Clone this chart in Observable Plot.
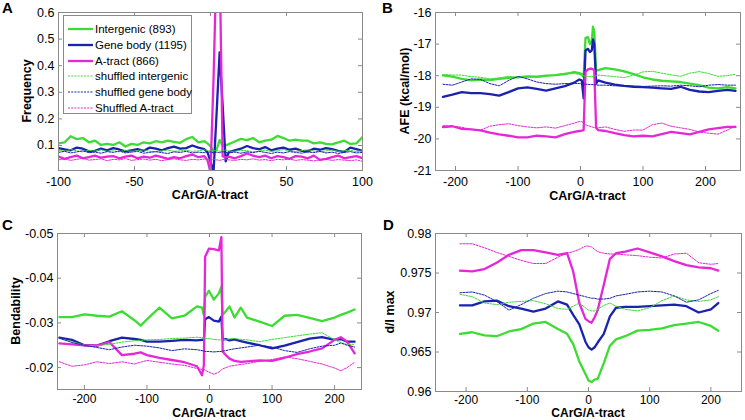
<!DOCTYPE html>
<html><head><meta charset="utf-8">
<script src="https://cdn.jsdelivr.net/npm/d3@7"></script>
<script src="https://cdn.jsdelivr.net/npm/@observablehq/plot@0.6"></script>
<style>
body{margin:0;background:#fff;font-family:"Liberation Sans",Arial,sans-serif;}
#wrap{position:relative;width:745px;height:420px;overflow:hidden;background:#fff;}
.panel{position:absolute;}
.letter{position:absolute;font-weight:bold;font-size:15px;line-height:15px;color:#000;}
.atitle{position:absolute;font-weight:bold;line-height:10px;white-space:nowrap;color:#000;}
#legend{position:absolute;left:63px;top:15px;width:129px;height:99px;border:1px solid #8a8a8a;background:#fff;box-sizing:border-box;font-size:11.5px;color:#000;}
#legend .row{position:absolute;left:0;height:14px;line-height:14px;white-space:nowrap;}
#legend svg{position:absolute;left:4px;top:0;}
#legend span{position:absolute;left:31px;top:0;}
</style></head><body><div id="wrap"></div>
<script>
// ---------- series meta ----------
const SERIES_NAMES = ["Intergenic (893)","Gene body (1195)","A-tract (866)","shuffled intergenic","shuffled gene body","Shuffled A-tract"];
const SERIES_COLORS = ["#3cdc32","#1a22b0","#e626d8","#3cdc32","#1a22b0","#e626d8"];
const SERIES_WIDTHS = [2.3,2.3,2.3,1,1,1];
const SERIES_DASH = [null,null,null,"2,1.2","2,1.2","2,1.2"];
const FRAME = "#8a8a8a";

// ---------- Panel A: Frequency ----------
const xA = [-100,-96,-92,-88,-84,-80,-76,-72,-68,-64,-60,-56,-52,-48,-44,-40,-36,-32,-28,-24,-20,-16,-12,-8,-4,-2,0,2,4,6,8,10,12,16,20,24,28,32,36,40,44,48,52,56,60,64,68,72,76,80,84,88,92,96,100];
const aIntergenic = [0.108,0.112,0.135,0.124,0.128,0.112,0.118,0.102,0.106,0.102,0.112,0.096,0.106,0.102,0.112,0.108,0.116,0.112,0.118,0.114,0.110,0.124,0.132,0.112,0.116,
  0.108,0.098,0.075,0.085,0.12,0.10,0.10,0.105,
  0.115,0.125,0.120,0.128,0.112,0.118,0.122,0.136,0.128,0.118,0.122,0.118,0.118,0.108,0.112,0.106,0.104,0.112,0.118,0.106,0.108,0.132];
const aGeneBody = [0.090,0.085,0.082,0.092,0.088,0.078,0.080,0.088,0.082,0.090,0.085,0.078,0.082,0.086,0.080,0.092,0.088,0.082,0.090,0.096,0.088,0.090,0.100,0.092,0.086,
  0.075,0.04,0.0,0.22,0.45,0.25,0.04,0.075,
  0.082,0.088,0.098,0.090,0.086,0.094,0.082,0.088,0.092,0.084,0.088,0.080,0.078,0.088,0.084,0.090,0.086,0.080,0.076,0.092,0.086,0.080];
const aATract = [0.058,0.050,0.056,0.062,0.052,0.056,0.062,0.054,0.058,0.060,0.052,0.058,0.062,0.052,0.058,0.054,0.062,0.056,0.050,0.056,0.052,0.060,0.066,0.056,0.060,
  0.045,0.0,0.35,0.8,0.8,0.06,0.055,0.058,
  0.052,0.060,0.070,0.062,0.056,0.062,0.052,0.060,0.056,0.050,0.060,0.058,0.052,0.062,0.046,0.050,0.056,0.062,0.052,0.056,0.060,0.052];
const aShufInter = [0.082,0.078,0.085,0.080,0.076,0.082,0.079,0.084,0.078,0.080,0.076,0.082,0.078,0.080,0.084,0.078,0.076,0.080,0.083,0.078,0.080,0.082,0.078,0.080,0.084,
  0.081,0.079,0.080,0.082,0.078,0.080,0.083,0.079,
  0.078,0.082,0.080,0.076,0.079,0.083,0.078,0.080,0.085,0.079,0.077,0.081,0.084,0.079,0.076,0.080,0.083,0.078,0.080,0.082,0.077,0.080];
const aShufGene = [0.074,0.078,0.072,0.076,0.080,0.073,0.075,0.071,0.077,0.074,0.079,0.072,0.075,0.078,0.071,0.074,0.077,0.073,0.070,0.076,0.074,0.078,0.072,0.075,0.073,
  0.074,0.076,0.072,0.075,0.073,0.077,0.074,0.072,
  0.075,0.071,0.076,0.073,0.078,0.074,0.070,0.075,0.072,0.077,0.074,0.071,0.076,0.073,0.078,0.072,0.075,0.070,0.074,0.077,0.072,0.074];
const aShufATract = [0.046,0.050,0.044,0.048,0.052,0.045,0.047,0.050,0.043,0.048,0.046,0.051,0.044,0.047,0.049,0.045,0.048,0.043,0.047,0.050,0.046,0.044,0.048,0.046,0.049,
  0.047,0.045,0.048,0.046,0.044,0.047,0.049,0.046,
  0.044,0.048,0.046,0.050,0.045,0.047,0.043,0.048,0.046,0.049,0.044,0.047,0.045,0.042,0.046,0.048,0.044,0.047,0.045,0.043,0.046,0.040];
const xTicksA = [-100,-50,0,50,100];
const yTicksA = [0.1,0.2,0.3,0.4,0.5,0.6];

// ---------- Panel B: AFE ----------
const xB = [-220,-205,-190,-175,-160,-145,-130,-115,-100,-85,-70,-55,-40,-25,-10,-2,2,5,8,12,15,18,20,22,25,28,40,55,70,85,100,115,130,145,160,175,190,205,220,235,248];
const bIntergenic = [-17.99,-18.03,-18.10,-18.15,-18.12,-18.14,-18.10,-18.07,-18.05,-18.02,-18.03,-18.00,-17.98,-17.95,-17.89,-17.92,
  -17.95,-18.05,-16.80,-16.78,-17.00,-16.90,-16.45,-16.60,-17.85,-17.82,
  -17.76,-17.80,-17.86,-17.95,-18.05,-18.12,-18.16,-18.18,-18.20,-18.25,-18.30,-18.38,-18.40,-18.36,-18.40];
const bGeneBody = [-18.67,-18.60,-18.52,-18.55,-18.55,-18.58,-18.63,-18.52,-18.40,-18.37,-18.42,-18.47,-18.40,-18.33,-18.22,-18.12,
  -18.15,-18.72,-17.20,-17.15,-17.25,-17.20,-16.85,-17.00,-18.25,-18.15,
  -18.22,-18.28,-18.32,-18.35,-18.36,-18.38,-18.40,-18.42,-18.35,-18.45,-18.50,-18.52,-18.48,-18.45,-18.48];
const bATract = [-19.63,-19.60,-19.68,-19.70,-19.73,-19.80,-19.86,-19.90,-19.95,-19.95,-19.90,-19.92,-19.95,-19.85,-19.78,-19.75,
  -19.74,-19.72,-17.88,-17.80,-17.78,-17.78,-17.80,-17.82,-19.65,-19.72,
  -19.75,-19.82,-19.88,-19.92,-19.90,-19.92,-19.85,-19.78,-19.82,-19.86,-19.78,-19.70,-19.66,-19.62,-19.62];
const bShufInter = [-17.96,-17.98,-17.98,-18.03,-18.05,-18.10,-18.07,-18.02,-18.06,-18.04,-18.06,-18.02,-17.97,-17.92,-17.93,-17.96,
  -18.00,-18.00,-18.02,-18.02,-18.03,-18.03,-18.03,-18.02,-18.00,-17.98,
  -18.00,-18.03,-18.06,-17.98,-17.88,-17.86,-17.92,-17.97,-18.02,-17.92,-17.87,-17.93,-18.02,-18.00,-17.95];
const bShufGene = [-18.27,-18.30,-18.20,-18.10,-18.12,-18.25,-18.32,-18.15,-18.02,-18.10,-18.20,-18.25,-18.27,-18.25,-18.24,-18.25,
  -18.25,-18.26,-18.27,-18.27,-18.28,-18.28,-18.28,-18.29,-18.29,-18.30,
  -18.30,-18.32,-18.33,-18.33,-18.34,-18.33,-18.32,-18.33,-18.30,-18.32,-18.35,-18.30,-18.28,-18.30,-18.30];
const bShufATract = [-19.58,-19.60,-19.63,-19.70,-19.72,-19.60,-19.55,-19.52,-19.58,-19.62,-19.65,-19.62,-19.66,-19.58,-19.50,-19.45,
  -19.45,-19.50,-19.55,-19.58,-19.60,-19.62,-19.63,-19.64,-19.65,-19.65,
  -19.62,-19.70,-19.76,-19.72,-19.72,-19.55,-19.50,-19.60,-19.65,-19.70,-19.78,-19.82,-19.85,-19.72,-19.60];
const xTicksB = [-200,-100,0,100,200];
const yTicksB = [-21,-20,-19,-18,-17,-16];

// ---------- Panel C: Bendability ----------
const xC = [-240,-220,-200,-180,-160,-140,-120,-110,-100,-80,-60,-40,-20,-12,-9,-7,-1,7,15,19,21,26,32,40,50,60,80,100,120,140,160,180,200,210,220,232];
const cIntergenic = [-0.0313,-0.0313,-0.0319,-0.0316,-0.0314,-0.0326,-0.0306,-0.0294,-0.0308,
  -0.0334,-0.0310,-0.0316,-0.0337,
  -0.0334,-0.0318,-0.0358,-0.0372,
  -0.0352,-0.0366,-0.0381,-0.0318,-0.0326,-0.0337,
  -0.0312,-0.0334,-0.0312,-0.0303,-0.0293,
  -0.0316,-0.0318,-0.0311,-0.0304,-0.0312,
  -0.0318,-0.0323,-0.0330];
const cGeneBody = [-0.0267,-0.0262,-0.0250,-0.0249,-0.0259,-0.0267,-0.0264,-0.0262,-0.0258,
  -0.0258,-0.0260,-0.0262,-0.0261,
  -0.0262,-0.0262,-0.0308,-0.0313,
  -0.0305,-0.0303,-0.0314,-0.0262,-0.0264,-0.0261,
  -0.0263,-0.0259,-0.0256,-0.0250,-0.0243,
  -0.0249,-0.0257,-0.0265,-0.0268,-0.0262,
  -0.0264,-0.0258,-0.0258];
const cATract = [-0.0254,-0.0252,-0.0250,-0.0249,-0.0257,-0.0228,-0.0231,-0.0234,-0.0228,
  -0.0222,-0.0217,-0.0212,-0.0203,
  -0.0183,-0.0205,-0.0448,-0.0466,
  -0.0465,-0.0462,-0.0492,-0.0236,-0.0228,-0.0220,
  -0.0215,-0.0213,-0.0214,-0.0216,-0.0215,
  -0.0222,-0.0230,-0.0236,-0.0243,-0.0262,
  -0.0268,-0.0258,-0.0232];
const cShufInter = [-0.0265,-0.0258,-0.0250,-0.0249,-0.0252,-0.0257,-0.0260,-0.0261,-0.0262,
  -0.0263,-0.0265,-0.0266,-0.0268,
  -0.0267,-0.0266,-0.0265,-0.0265,
  -0.0263,-0.0262,-0.0262,-0.0262,-0.0263,-0.0264,
  -0.0265,-0.0263,-0.0262,-0.0258,-0.0263,
  -0.0267,-0.0271,-0.0275,-0.0278,-0.0262,
  -0.0256,-0.0252,-0.0252];
const cShufGene = [-0.0266,-0.0256,-0.0250,-0.0245,-0.0240,-0.0246,-0.0250,-0.0249,-0.0248,
  -0.0244,-0.0238,-0.0242,-0.0240,
  -0.0238,-0.0237,-0.0236,-0.0236,
  -0.0235,-0.0236,-0.0236,-0.0237,-0.0238,-0.0240,
  -0.0242,-0.0244,-0.0246,-0.0250,-0.0246,
  -0.0238,-0.0234,-0.0242,-0.0248,-0.0250,
  -0.0255,-0.0250,-0.0246];
const cShufATract = [-0.0213,-0.0203,-0.0206,-0.0213,-0.0209,-0.0213,-0.0208,-0.0212,-0.0216,
  -0.0212,-0.0208,-0.0205,-0.0198,
  -0.0196,-0.0196,-0.0194,-0.0190,
  -0.0185,-0.0190,-0.0195,-0.0197,-0.0200,-0.0203,
  -0.0205,-0.0207,-0.0209,-0.0214,-0.0218,
  -0.0224,-0.0220,-0.0214,-0.0208,-0.0199,
  -0.0193,-0.0200,-0.0212];
const xTicksC = [-200,-100,0,100,200];
const yTicksC = [-0.05,-0.04,-0.03,-0.02];

// ---------- Panel D: d/l max ----------
const xD = [-210,-190,-170,-150,-130,-110,-90,-70,-50,-35,-25,-15,-5,0,5,10,15,25,35,45,60,80,100,120,140,160,180,200,212];
const dIntergenic = [0.9673,0.9675,0.9671,0.9670,0.9676,0.9679,0.9686,0.9688,0.9679,0.9673,0.9660,0.9638,0.9622,0.9614,0.9612,0.9615,0.9616,0.9636,0.9658,0.9666,0.9670,0.9677,0.9678,0.9680,0.9684,0.9686,0.9688,0.9683,0.9677];
const dGeneBody = [0.9709,0.9709,0.9714,0.9715,0.9708,0.9705,0.9701,0.9705,0.9714,0.9710,0.9697,0.9685,0.9663,0.9656,0.9653,0.9656,0.9662,0.9673,0.9695,0.9706,0.9707,0.9707,0.9708,0.9709,0.9710,0.9708,0.9700,0.9704,0.9712];
const dATract = [0.9753,0.9752,0.9755,0.9763,0.9773,0.9779,0.9779,0.9776,0.9773,0.9775,0.9752,0.9712,0.9692,0.9689,0.9687,0.9694,0.9703,0.9735,0.9768,0.9775,0.9777,0.9781,0.9776,0.9771,0.9765,0.9760,0.9757,0.9756,0.9753];
const dShufInter = [0.9723,0.9720,0.9712,0.9710,0.9713,0.9714,0.9715,0.9711,0.9705,0.9704,0.9708,0.9712,0.9706,0.9703,0.9702,0.9702,0.9704,0.9709,0.9712,0.9708,0.9704,0.9702,0.9706,0.9715,0.9721,0.9716,0.9714,0.9716,0.9720];
const dShufGene = [0.9725,0.9726,0.9722,0.9714,0.9703,0.9710,0.9718,0.9724,0.9727,0.9726,0.9724,0.9722,0.9720,0.9719,0.9718,0.9718,0.9717,0.9717,0.9718,0.9721,0.9723,0.9726,0.9727,0.9726,0.9721,0.9713,0.9716,0.9724,0.9728];
const dShufATract = [0.9787,0.9787,0.9782,0.9776,0.9771,0.9766,0.9762,0.9762,0.9770,0.9775,0.9777,0.9780,0.9784,0.9784,0.9783,0.9780,0.9777,0.9775,0.9774,0.9774,0.9773,0.9772,0.9770,0.9769,0.9774,0.9775,0.9763,0.9761,0.9762];
const xTicksD = [-200,-100,0,100,200];
const yTicksD = [0.96,0.965,0.97,0.975,0.98];

// ---------- drawing ----------
const wrap = document.getElementById("wrap");
const fmt = d => String(d);
const TICK = 4;

function addText(text, cx, cy, rotate, size) {
  const d = document.createElement("div");
  d.className = "atitle";
  d.textContent = text;
  d.style.fontSize = size + "px";
  d.style.left = cx + "px";
  d.style.top = cy + "px";
  d.style.transform = "translate(-50%,-50%)" + (rotate ? " rotate(-90deg)" : "");
  wrap.appendChild(d);
}

function makePanel(cfg) {
  const fw = cfg.width - cfg.m[0] - cfg.m[1];
  const fh = cfg.height - cfg.m[2] - cfg.m[3];
  const marks = [];
  cfg.ys.forEach((ys, i) => {
    const pts = cfg.xs.map((x, j) => ({x, y: ys[j]}));
    marks.push(Plot.line(pts, {x: "x", y: "y", stroke: SERIES_COLORS[i], strokeWidth: SERIES_WIDTHS[i],
      strokeDasharray: SERIES_DASH[i], clip: true}));
  });
  marks.push(
    Plot.frame({stroke: FRAME}),
    // inward ticks on all four sides (MATLAB box style)
    Plot.tickX(cfg.xTicks, {x: d => d, stroke: FRAME, insetTop: fh - TICK}),
    Plot.tickX(cfg.xTicks, {x: d => d, stroke: FRAME, insetBottom: fh - TICK}),
    Plot.tickY(cfg.yTicks, {y: d => d, stroke: FRAME, insetRight: fw - TICK}),
    Plot.tickY(cfg.yTicks, {y: d => d, stroke: FRAME, insetLeft: fw - TICK}),
    Plot.axisX({anchor: "bottom", ticks: cfg.xTicks, tickSize: 0, tickPadding: cfg.xPad, tickFormat: fmt, label: null, fontSize: cfg.xFont}),
    Plot.axisY({anchor: "left", ticks: cfg.yTicks, tickSize: 0, tickPadding: 4, tickFormat: fmt, label: null})
  );
  const svg = Plot.plot({
    width: cfg.width, height: cfg.height,
    marginLeft: cfg.m[0], marginRight: cfg.m[1], marginTop: cfg.m[2], marginBottom: cfg.m[3],
    x: {domain: cfg.xDomain},
    y: {domain: cfg.yDomain},
    style: {fontFamily: '"Liberation Sans", Arial, sans-serif', fontSize: "12.5px", background: "transparent", color: "#000", overflow: "visible"},
    marks
  });
  const div = document.createElement("div");
  div.className = "panel";
  div.style.left = cfg.left + "px";
  div.style.top = cfg.top + "px";
  div.appendChild(svg);
  wrap.appendChild(div);
  const fx0 = cfg.left + cfg.m[0], fx1 = cfg.left + cfg.width - cfg.m[1];
  const fy0 = cfg.top + cfg.m[2], fy1 = cfg.top + cfg.height - cfg.m[3];
  addText("CArG/A-tract", (fx0 + fx1) / 2, fy1 + cfg.xTitleGap, false, cfg.titleFont);
  addText(cfg.yLabel, cfg.left + cfg.yTitleX, (fy0 + fy1) / 2, true, 12.5);
}

makePanel({left: 0, top: 0, width: 372, height: 210, m: [58, 10, 12, 40],
  xs: xA, ys: [aIntergenic, aGeneBody, aATract, aShufInter, aShufGene, aShufATract],
  xDomain: [-100, 100], yDomain: [0.006, 0.6], xTicks: xTicksA, yTicks: yTicksA,
  yLabel: "Frequency", yTitleX: 27, xTitleGap: 25, xPad: 7, xFont: 12.5, titleFont: 12.5});
makePanel({left: 372, top: 0, width: 373, height: 210, m: [63, 5, 12, 40],
  xs: xB, ys: [bIntergenic, bGeneBody, bATract, bShufInter, bShufGene, bShufATract],
  xDomain: [-232, 256], yDomain: [-21, -16], xTicks: xTicksB, yTicks: yTicksB,
  yLabel: "AFE (kcal/mol)", yTitleX: 33, xTitleGap: 26, xPad: 7, xFont: 12.5, titleFont: 12.5});
makePanel({left: 0, top: 210, width: 372, height: 210, m: [57, 11, 23, 31],
  xs: xC, ys: [cIntergenic, cGeneBody, cATract, cShufInter, cShufGene, cShufATract],
  xDomain: [-243, 243], yDomain: [-0.0151, -0.05], xTicks: xTicksC, yTicks: yTicksC,
  yLabel: "Bendability", yTitleX: 16, xTitleGap: 23.5, xPad: 5, xFont: 12, titleFont: 12});
makePanel({left: 372, top: 210, width: 373, height: 210, m: [63, 4, 23, 29],
  xs: xD, ys: [dIntergenic, dGeneBody, dATract, dShufInter, dShufGene, dShufATract],
  xDomain: [-250, 250], yDomain: [0.96, 0.98], xTicks: xTicksD, yTicks: yTicksD,
  yLabel: "d/l max", yTitleX: 18, xTitleGap: 22, xPad: 4, xFont: 12, titleFont: 12});

// panel letters
[["A", 2, 0], ["B", 382, 0], ["C", 2, 217], ["D", 383, 217]].forEach(([t, l, tp]) => {
  const d = document.createElement("div");
  d.className = "letter"; d.textContent = t;
  d.style.left = l + "px"; d.style.top = tp + "px";
  wrap.appendChild(d);
});

// legend (panel A)
const leg = document.createElement("div");
leg.id = "legend";
SERIES_NAMES.forEach((name, i) => {
  const row = document.createElement("div");
  row.className = "row";
  row.style.top = (6 + i * 15.8) + "px";
  row.style.width = "127px";
  const ns = "http://www.w3.org/2000/svg";
  const s = document.createElementNS(ns, "svg");
  s.setAttribute("width", "26"); s.setAttribute("height", "14");
  const ln = document.createElementNS(ns, "line");
  ln.setAttribute("x1", "0"); ln.setAttribute("x2", "25");
  ln.setAttribute("y1", "7"); ln.setAttribute("y2", "7");
  ln.setAttribute("stroke", SERIES_COLORS[i]);
  ln.setAttribute("stroke-width", SERIES_WIDTHS[i]);
  if (SERIES_DASH[i]) ln.setAttribute("stroke-dasharray", SERIES_DASH[i]);
  s.appendChild(ln);
  const sp = document.createElement("span");
  sp.textContent = name;
  row.appendChild(s); row.appendChild(sp);
  leg.appendChild(row);
});
wrap.appendChild(leg);
</script></body></html>
